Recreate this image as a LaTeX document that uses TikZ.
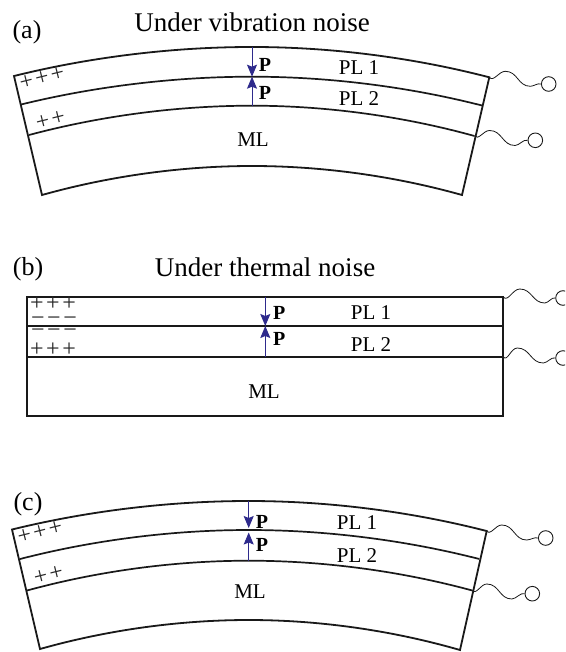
\documentclass[tikz,border=0pt]{standalone}
\usepackage{fontspec}
\setmainfont{Liberation Serif}
\usetikzlibrary{arrows.meta}
\definecolor{pol}{HTML}{2E2A8C}
\tikzset{
  layer/.style={line width=1.7pt,black!90},
  outline/.style={line width=1.8pt,black!90},
  pol arrow/.style={draw=pol,line width=0.9pt,-{Stealth[length=12pt,width=10pt,inset=2pt]}},
  wire/.style={line width=0.8pt,black!90},
  terminal/.style={circle,draw=black!90,line width=0.9pt,fill=white,inner sep=0pt,minimum size=14.6pt},
  title/.style={font=\fontsize{27}{29}\selectfont,inner sep=0pt},
  tag/.style={font=\fontsize{26}{28}\selectfont,inner sep=0pt},
  lab/.style={font=\fontsize{21}{23}\selectfont,inner sep=0pt},
  pee/.style={font=\fontsize{20}{22}\selectfont\bfseries,inner sep=0pt},
  charge/.style={font=\fontsize{24}{24}\selectfont,inner sep=0pt,text=black!85},
}
\newcommand{\chg}[1]{#1\hspace{2.5pt}#1\hspace{2.5pt}#1}
\newcommand{\chgtwo}[1]{#1\hspace{2.5pt}#1}
% start, terminal, peak offset, trough offset
\newcommand{\wavy}[4]{\draw[wire] (#1) to[out=-50,in=180] ([shift={(#3)}]#1) to[out=0,in=180,looseness=1.1] ([shift={(#4)}]#1) to[out=0,in=160,looseness=0.8] (#2.west);}
\begin{document}
\begin{tikzpicture}[x=1pt,y=-1pt]
\path[use as bounding box,clip] (0,0) rectangle (565,652);
\fill[white] (0,0) rectangle (565,652);
% ---------- (a)
\node[tag] (taga) at (27,32) {(a)};
\node[title] (titlea) at (252,22) {Under vibration noise};
\coordinate (a1l) at (14,76); \coordinate (a1m) at (252,47); \coordinate (a1r) at (489.3,77.3);
\coordinate (a2l) at (21,104.5); \coordinate (a2m) at (252,76.7); \coordinate (a2r) at (482,105.5);
\coordinate (a3l) at (29,135); \coordinate (a3m) at (252,105.7); \coordinate (a3r) at (474.5,136);
\coordinate (a4l) at (42,195); \coordinate (a4m) at (252,166); \coordinate (a4r) at (462,195);
\draw[outline] (a1l) parabola bend (a1m) (a1r) -- (a4r) parabola bend (a4m) (a4l) -- cycle;
\draw[layer] (a2l) parabola bend (a2m) (a2r);
\draw[layer] (a3l) parabola bend (a3m) (a3r);
\draw[pol arrow] (a1m) -- (a2m);
\draw[pol arrow] (a3m) -- (a2m);
\node[pee] (pa1) at (265,65) {P};
\node[pee] (pa2) at (265,93) {P};
\node[lab] (pla1) at (359,68) {PL 1};
\node[lab] (pla2) at (359,99) {PL 2};
\node[lab] (mla) at (253,140) {ML};
\node[charge,rotate=14] (ca1) at (42,78) {\chg{+}};
\node[charge,rotate=14] (ca2) at (50.5,120) {\chgtwo{+}};
\node[terminal] (ta1) at (548.7,84) {};
\node[terminal] (ta2) at (535.3,140.3) {};
\wavy{a1r}{ta1}{16,-6}{41,9}
\wavy{a3r}{ta2}{15,-5.5}{40.5,9.5}
% ---------- (b)
\node[tag] (tagb) at (28,269) {(b)};
\node[title] (titleb) at (265,267) {Under thermal noise};
\coordinate (b1l) at (27,297); \coordinate (b1m) at (265.3,297); \coordinate (b1r) at (503.3,297);
\coordinate (b2l) at (27,326); \coordinate (b2m) at (265.3,326); \coordinate (b2r) at (503.3,326);
\coordinate (b3l) at (27,357); \coordinate (b3m) at (265.3,357); \coordinate (b3r) at (503.3,357);
\coordinate (b4l) at (27,416); \coordinate (b4r) at (503.3,416);
\draw[outline] (b1l) -- (b1r) -- (b4r) -- (b4l) -- cycle;
\draw[layer] (b2l) -- (b2r);
\draw[layer] (b3l) -- (b3r);
\draw[pol arrow] (b1m) -- (b2m);
\draw[pol arrow] (b3m) -- (b2m);
\node[pee] (pb1) at (279.3,313) {P};
\node[pee] (pb2) at (279.3,339) {P};
\node[lab] (plb1) at (371,313) {PL 1};
\node[lab] (plb2) at (371,345) {PL 2};
\node[lab] (mlb) at (264,392) {ML};
\node[charge] (cb1) at (53,304) {\chg{+}};
\node[charge] (cb2) at (54,321) {\chg{−}};
\node[charge] (cb3) at (54,333) {\chg{−}};
\node[charge] (cb4) at (53,350) {\chg{+}};
\node[terminal] (tb1) at (563,298) {};
\node[terminal] (tb2) at (563,358) {};
\wavy{b1r}{tb1}{16.5,-8}{41.5,6}
\wavy{b3r}{tb2}{14,-9}{40,6}
% ---------- (c)
\node[tag] (tagc) at (28,504) {(c)};
\coordinate (c1l) at (12,529.5); \coordinate (c1m) at (248.7,501); \coordinate (c1r) at (486.7,531);
\coordinate (c2l) at (20,559); \coordinate (c2m) at (248.7,530); \coordinate (c2r) at (479.3,559);
\coordinate (c3l) at (27,590.5); \coordinate (c3m) at (248.7,560.7); \coordinate (c3r) at (472.3,590.5);
\coordinate (c4l) at (40,649); \coordinate (c4m) at (248.7,620); \coordinate (c4r) at (460,650);
\draw[outline] (c1l) parabola bend (c1m) (c1r) -- (c4r) parabola bend (c4m) (c4l) -- cycle;
\draw[layer] (c2l) parabola bend (c2m) (c2r);
\draw[layer] (c3l) parabola bend (c3m) (c3r);
\draw[pol arrow,shorten >=2pt] (c1m) -- (c2m);
\draw[pol arrow,shorten >=2.5pt] (c3m) -- (c2m);
\node[pee] (pc1) at (262,522) {P};
\node[pee] (pc2) at (262,545) {P};
\node[lab] (plc1) at (357,523) {PL 1};
\node[lab] (plc2) at (357,556) {PL 2};
\node[lab] (mlc) at (250,592) {ML};
\node[charge,rotate=14] (cc1) at (40,532) {\chg{+}};
\node[charge,rotate=14] (cc2) at (48.5,575) {\chgtwo{+}};
\node[terminal] (tc1) at (545.7,538) {};
\node[terminal] (tc2) at (532.3,593.7) {};
\wavy{c1r}{tc1}{15,-6}{40,9}
\wavy{c3r}{tc2}{14.5,-6.5}{39.5,8.5}
\end{tikzpicture}
\end{document}
